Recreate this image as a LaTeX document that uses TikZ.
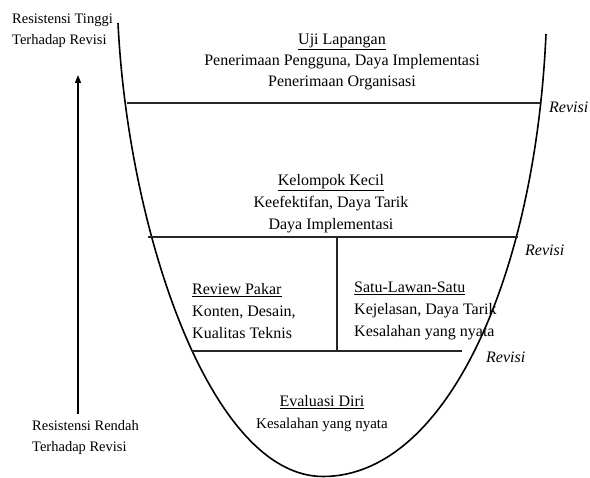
\documentclass[tikz,border=0pt]{standalone}
\usepackage{fontspec}
\setmainfont{Liberation Serif}
\usetikzlibrary{arrows.meta, positioning}
\tikzset{
  % kurva U
  kurva/.style={line width=1.6pt, black},
  % garis pembatas antar tahap
  batas/.style={line width=1.5pt, black!85},
  % teks tiap tahap
  tahap/.style={inner sep=0pt, align=center, font=\fontsize{16}{22}\selectfont},
  tahapkiri/.style={tahap, align=left, anchor=west},
  % label revisi
  revisi/.style={inner sep=0pt, anchor=west, font=\fontsize{16}{20}\selectfont\itshape},
  % label resistensi
  resist/.style={inner sep=0pt, anchor=west, align=left, font=\fontsize{14.5}{21}\selectfont},
  % panah resistensi
  panah/.style={-{Triangle[length=8pt, width=6pt]}, line width=1.4pt},
}

\begin{document}
\begin{tikzpicture}[x=1pt, y=-1pt]
  \useasboundingbox (0,0) rectangle (590,478);
  % kurva U
  \draw[kurva] (118,23) .. controls (128,230) and (210,476.5) .. (323,476.5)
    .. controls (445,476.5) and (535,280) .. (546,34);
  % garis pembatas
  \coordinate (b1a) at (127,103);
  \coordinate (b1b) at (540,103);
  \coordinate (b2a) at (148,237);
  \coordinate (b2b) at (518,237);
  \coordinate (b3a) at (192,351);
  \coordinate (b3b) at (462,351);
  \coordinate (tengah) at (337,237);
  \coordinate (tengahbawah) at (337,351);
  \draw[batas] (b1a) -- (b1b);
  \draw[batas] (b2a) -- (b2b);
  \draw[batas] (b3a) -- (b3b);
  \draw[batas] (tengah) -- (tengahbawah);
  % tahap-tahap
  \node[tahap, font=\fontsize{16}{21}\selectfont] (uji) at (342,62)
    {\underline{Uji Lapangan}\\Penerimaan Pengguna, Daya Implementasi\\Penerimaan Organisasi};
  \node[tahap] (kecil) at (331,204)
    {\underline{Kelompok Kecil}\\Keefektifan, Daya Tarik\\Daya Implementasi};
  \node[tahapkiri] (pakar) at (192,311)
    {\underline{Review Pakar}\\Konten, Desain,\\Kualitas Teknis};
  \node[tahapkiri] (satu) at (354,311)
    {\underline{Satu-Lawan-Satu}\\Kejelasan, Daya Tarik\\Kesalahan yang nyata};
  \node[tahap] (diri) at (322,414)
    {\underline{Evaluasi Diri}\\{\fontsize{15}{22}\selectfont Kesalahan yang nyata}};
  % revisi
  \node[revisi] (rev1) at (549,107) {Revisi};
  \node[revisi] (rev2) at (525,250) {Revisi};
  \node[revisi] (rev3) at (486,357) {Revisi};
  % resistensi
  \node[resist] (tinggi) at (12,31) {Resistensi Tinggi\\Terhadap Revisi};
  \node[resist] (rendah) at (32,438) {Resistensi Rendah\\Terhadap Revisi};
  \coordinate (pangkal) at (78,414);
  \coordinate (ujung) at (78,75);
  \draw[panah] (pangkal) -- (ujung);
\end{tikzpicture}
\end{document}
